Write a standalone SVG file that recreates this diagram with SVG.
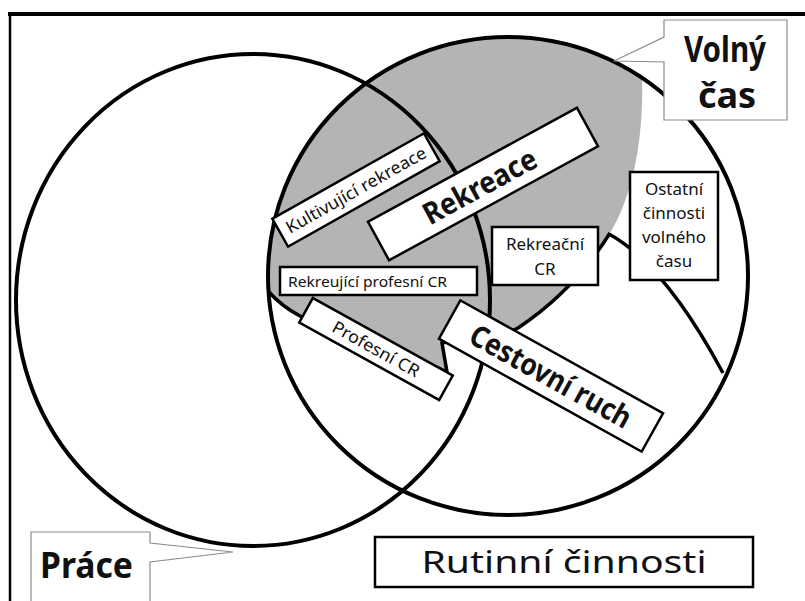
<svg xmlns="http://www.w3.org/2000/svg" width="805" height="601" viewBox="0 0 805 601">
<style>
.c{fill:none;stroke:#000;stroke-width:4}
.ln{fill:none;stroke:#000;stroke-width:3.5}
.b{fill:#fff;stroke:#000;stroke-width:2.5}
.co{fill:#fff;stroke:#8c8c8c;stroke-width:1.2}
text{font-family:"Noto Sans","Liberation Sans",sans-serif;fill:#111}
.big{font-weight:bold;font-size:36px}
.bb{font-weight:bold;font-size:30px}
.s{font-size:17px}
</style>
<rect width="805" height="601" fill="#fff"/>
<g id="frame">
<line x1="10" y1="14" x2="10" y2="601" stroke="#000" stroke-width="2.5"/>
<line x1="8" y1="14" x2="805" y2="14" stroke="#000" stroke-width="4"/>
</g>
<g id="rekreace-area">
<path d="M 642 78 C 644 140, 632 198, 610 233 C 590 265, 560 300, 518 328 C 490 343, 460 338, 442 343 L 447 372 C 400 350, 330 332, 300 316 C 285 308, 276 300, 269 292 A 240 239 0 0 1 642 78 Z" fill="#b4b4b4"/>
</g>
<g id="connectors">
<path class="ln" d="M 610 233 C 590 265, 560 300, 518 328 C 490 343, 460 338, 442 343 L 447 372 C 400 350, 330 332, 300 316 C 285 308, 276 300, 269 292"/>
<path class="ln" d="M 609 234 Q 665 265 723 373"/>
</g>
<g id="prace-circle"><ellipse class="c" cx="253" cy="300" rx="237" ry="246"/></g>
<g id="volny-cas-circle"><ellipse class="c" cx="508" cy="276" rx="240" ry="239"/></g>
<g id="kultivujici" transform="translate(356,190) rotate(-29.4)">
<rect class="b" x="-87" y="-16" width="174" height="32"/>
<text class="s" x="0" y="6" text-anchor="middle" textLength="158" lengthAdjust="spacingAndGlyphs">Kultivující rekreace</text>
</g>
<g id="rekreace" transform="translate(483,184) rotate(-28.6)">
<rect class="b" x="-119" y="-22" width="238" height="44"/>
<text class="bb" x="-4" y="11" text-anchor="middle" textLength="125" lengthAdjust="spacingAndGlyphs">Rekreace</text>
</g>
<g id="rekreujici">
<rect class="b" x="280" y="267" width="197" height="28"/>
<text x="288" y="287" font-size="15" textLength="159" lengthAdjust="spacingAndGlyphs">Rekreující profesní CR</text>
</g>
<g id="rekreacni-cr">
<rect class="b" x="492" y="227" width="106" height="58"/>
<text class="s" x="545" y="250" text-anchor="middle">Rekreační</text>
<text class="s" x="545" y="275" text-anchor="middle">CR</text>
</g>
<g id="ostatni">
<rect class="b" x="630" y="172" width="88" height="108"/>
<text class="s" x="674" y="195" text-anchor="middle">Ostatní</text>
<text class="s" x="674" y="219" text-anchor="middle">činnosti</text>
<text class="s" x="674" y="243" text-anchor="middle">volného</text>
<text class="s" x="674" y="267" text-anchor="middle">času</text>
</g>
<g id="profesni" transform="translate(376,349) rotate(29)">
<rect class="b" x="-80" y="-14" width="160" height="28"/>
<text class="s" x="0" y="6" text-anchor="middle" textLength="97" lengthAdjust="spacingAndGlyphs">Profesní CR</text>
</g>
<g id="cestovni" transform="translate(551,376) rotate(29.1)">
<rect class="b" x="-116" y="-22" width="232" height="44"/>
<text class="bb" x="0" y="11" text-anchor="middle" textLength="180" lengthAdjust="spacingAndGlyphs">Cestovní ruch</text>
</g>
<g id="volny-cas-label">
<path class="co" d="M 664 62 V 120 H 787 V 20 H 664 V 37 L 614 61 Z"/>
<text class="big" x="725" y="62" text-anchor="middle" textLength="82" lengthAdjust="spacingAndGlyphs">Volný</text>
<text class="big" x="727" y="108" text-anchor="middle">čas</text>
</g>
<g id="prace-label">
<path class="co" d="M 150 543 V 532 H 31 V 610 H 150 V 562 L 233 552 Z"/>
<text class="big" x="40" y="578" textLength="93" lengthAdjust="spacingAndGlyphs">Práce</text>
</g>
<g id="rutinni">
<rect class="b" x="375" y="537" width="378" height="50"/>
<text x="564" y="573" font-size="30" text-anchor="middle" textLength="285" lengthAdjust="spacingAndGlyphs">Rutinní činnosti</text>
</g>
</svg>
